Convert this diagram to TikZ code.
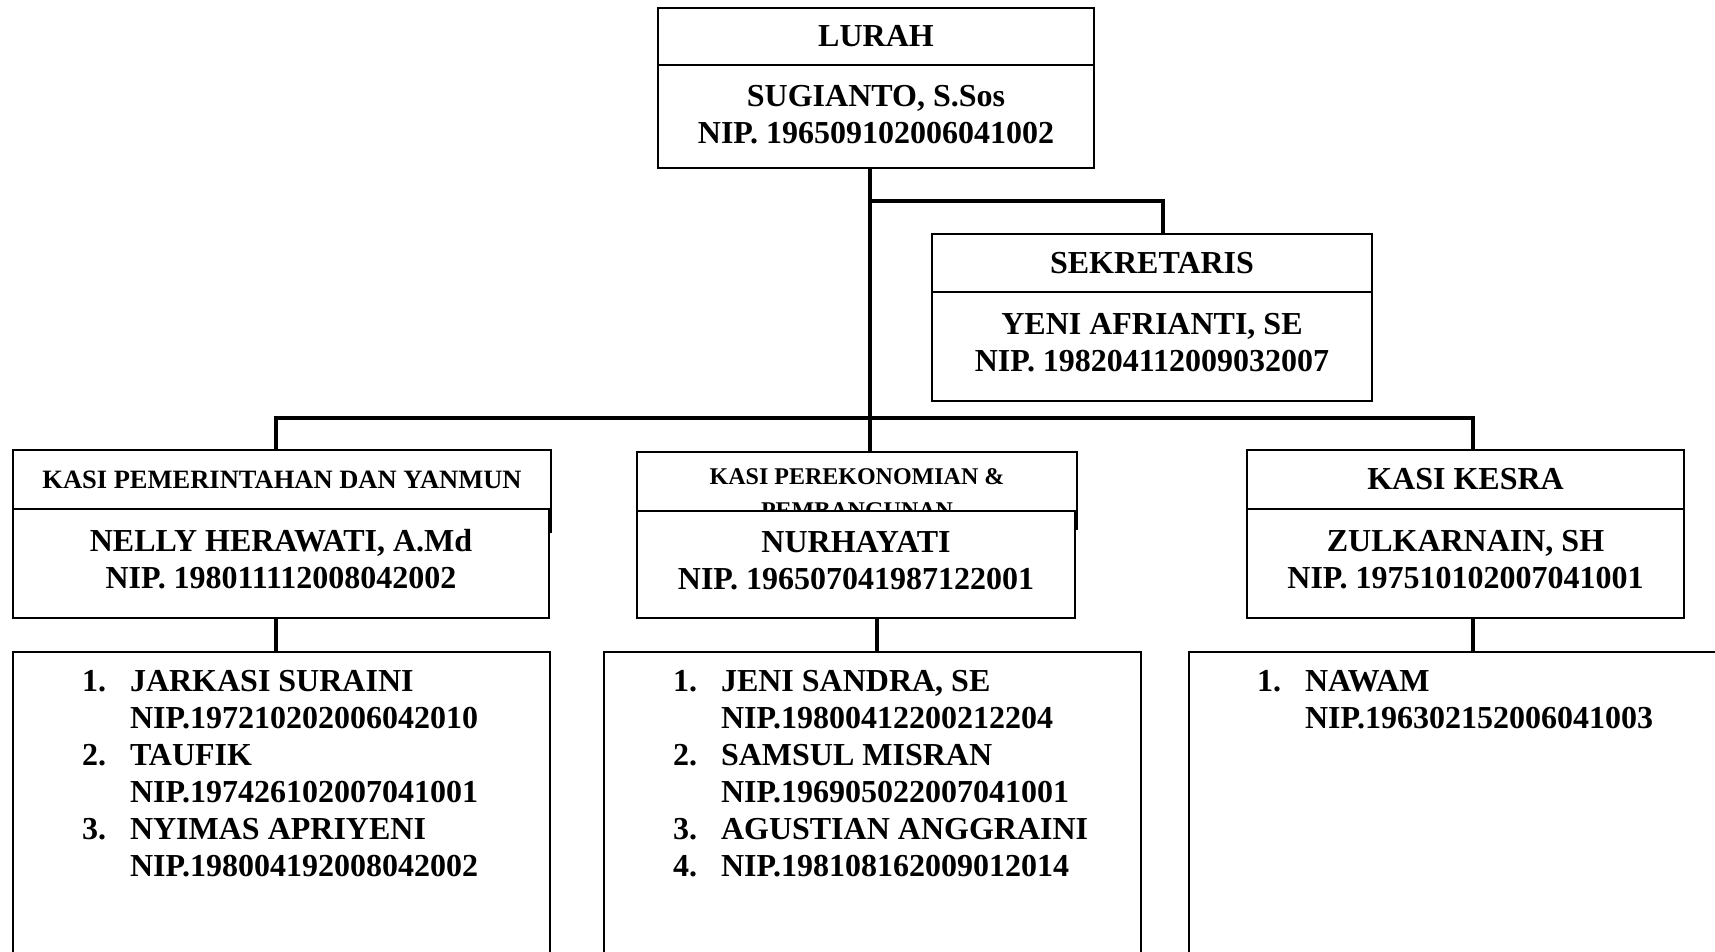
\documentclass[tikz,border=0pt]{standalone}
\usepackage{fontspec}
\setmainfont{Liberation Serif}
\usepackage{tikz}
\usetikzlibrary{positioning}

\newcommand{\nomor}[1]{\makebox[48pt][l]{#1}}

\begin{document}
\begin{tikzpicture}[x=1pt, y=-1pt, outer sep=0pt,
    kotak/.style={draw, line width=1.6pt, inner sep=0pt, fill=white},
    kepala/.style={kotak, minimum height=59pt, font=\fontsize{32}{37}\selectfont\bfseries},
    isi/.style={kotak, align=center, text depth=9pt, font=\fontsize{32}{37}\selectfont\bfseries},
    wadah/.style={kotak, minimum width=537pt, minimum height=340pt, anchor=north west},
    daftar/.style={align=left, inner sep=0pt, anchor=north west, font=\fontsize{32}{37}\selectfont\bfseries},
    garis/.style={line width=4pt},
    sambung/.style={line width=3.5pt}]
\useasboundingbox (0,0) rectangle (1715,951);

% Lurah
\node[kepala, minimum width=436pt, minimum height=57pt] (lurah) at (876,36.5) {LURAH};
\node[isi, text depth=4.5pt, minimum width=436pt, minimum height=103pt, below=0pt of lurah] (isiLurah) {SUGIANTO, S.Sos\\NIP. 196509102006041002};

% Sekretaris
\node[kepala, minimum width=440pt, minimum height=58pt] (sekretaris) at (1152,263) {SEKRETARIS};
\node[isi, minimum width=440pt, minimum height=109pt, below=0pt of sekretaris] (isiSekretaris) {YENI AFRIANTI, SE\\NIP. 198204112009032007};

% Kasi
\node[kepala, minimum width=538pt, font=\fontsize{26.5}{30}\selectfont\bfseries] (kasi1) at (282,479.5) {KASI PEMERINTAHAN DAN YANMUN};
\draw[line width=1.6pt] (kasi1.south east) -- ++(0,24);
\node[isi, minimum width=536pt, minimum height=109pt, anchor=north west] (isi1) at (kasi1.south west) {NELLY HERAWATI, A.Md\\NIP. 198011112008042002};

\node[kotak, align=center, text height=55pt, text depth=0pt, minimum width=440pt, minimum height=77pt, anchor=north west, font=\fontsize{24}{34}\selectfont\bfseries] (kasi2) at (637,452) {KASI PEREKONOMIAN \&\\PEMBANGUNAN};
\node[isi, minimum width=438pt, minimum height=107pt, anchor=north west] (isi2) at ([yshift=-59pt]kasi2.north west) {NURHAYATI\\NIP. 196507041987122001};

\node[kepala, minimum width=437pt] (kasi3) at (1465.5,479.5) {KASI KESRA};
\node[isi, minimum width=437pt, minimum height=109pt, below=0pt of kasi3] (isi3) {ZULKARNAIN, SH\\NIP. 197510102007041001};

% Garis
\coordinate (bus) at (870,418);
\coordinate (busKiri) at (276,418);
\coordinate (busKanan) at (1473,418);
\coordinate (sek) at (1163,201);
\draw[garis] (isiLurah.south -| bus) -- (kasi2.north -| bus);
\draw[garis] (sek -| bus) -- (sek) -- (sekretaris.north -| sek);
\draw[garis] (kasi1.north -| busKiri) -- (busKiri) -- (busKanan) -- (kasi3.north -| busKanan);

% Staf
\node[wadah] (wadah1) at (13,652) {};
\node[wadah] (wadah2) at (604,652) {};
\node[wadah] (wadah3) at (1189,652) {};
\draw[sambung] (isi1.south -| busKiri) -- (wadah1.north -| busKiri);
\draw[sambung] ([xshift=21pt]isi2.south) -- ([xshift=21pt]isi2.south |- wadah2.north);
\draw[sambung] (isi3.south -| busKanan) -- (wadah3.north -| busKanan);

\node[daftar] (daftar1) at ([xshift=69pt, yshift=-18pt]wadah1.north west) {\nomor{1.}JARKASI SURAINI\\\nomor{}NIP.197210202006042010\\\nomor{2.}TAUFIK\\\nomor{}NIP.197426102007041001\\\nomor{3.}NYIMAS APRIYENI\\\nomor{}NIP.198004192008042002};
\node[daftar] (daftar2) at ([xshift=69pt, yshift=-18pt]wadah2.north west) {\nomor{1.}JENI SANDRA, SE\\\nomor{}NIP.19800412200212204\\\nomor{2.}SAMSUL MISRAN\\\nomor{}NIP.196905022007041001\\\nomor{3.}AGUSTIAN ANGGRAINI\\\nomor{4.}NIP.198108162009012014};
\node[daftar] (daftar3) at ([xshift=68pt, yshift=-18pt]wadah3.north west) {\nomor{1.}NAWAM\\\nomor{}NIP.196302152006041003};
\end{tikzpicture}
\end{document}
